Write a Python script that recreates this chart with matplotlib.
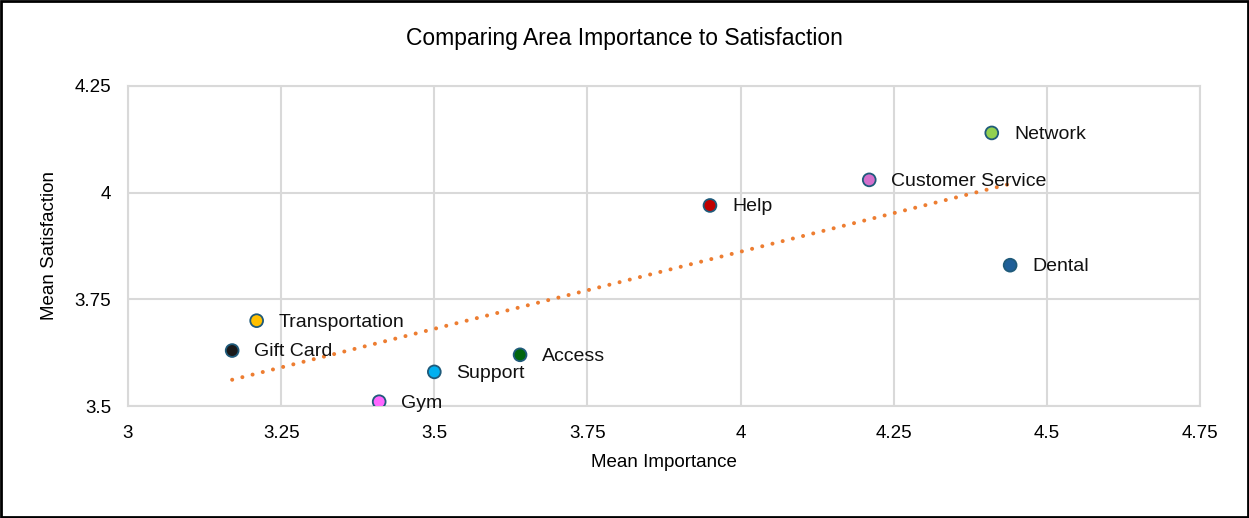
import numpy as np
import matplotlib.pyplot as plt
from matplotlib.patches import Rectangle

plt.rcParams['font.family'] = ['Liberation Sans', 'DejaVu Sans']

names = ['Network', 'Customer Service', 'Help', 'Dental', 'Transportation',
         'Gift Card', 'Access', 'Support', 'Gym']
importance = [4.41, 4.21, 3.95, 4.44, 3.21, 3.17, 3.64, 3.50, 3.41]
satisfaction = [4.14, 4.03, 3.97, 3.83, 3.70, 3.63, 3.62, 3.58, 3.51]
colors = ['#92d050', '#d36fcc', '#c00000', '#1f5f98', '#ffc000',
          '#1a1a1a', '#00650d', '#00b0f0', '#ff66ff']

xticks = [3, 3.25, 3.5, 3.75, 4, 4.25, 4.5, 4.75]
xticklabels = ['3', '3.25', '3.5', '3.75', '4', '4.25', '4.5', '4.75']
yticks = [3.5, 3.75, 4, 4.25]
yticklabels = ['3.5', '3.75', '4', '4.25']

fig = plt.figure(figsize=(12.49, 5.18), dpi=100)
ax = fig.add_axes([0.1025, 0.2162, 0.8583, 0.6178])

# linear trendline
k, b = np.polyfit(importance, satisfaction, 1)
tx = np.array([min(importance), max(importance)])
ax.plot(tx, k * tx + b, color='#ed7d31', linestyle=(0, (0.01, 2.6)), linewidth=2.9,
        dash_capstyle='round', zorder=2)

ax.scatter(importance, satisfaction, s=85, c=colors, edgecolors='#1f5a7a',
           linewidths=1.3, zorder=3)

for n, x, y in zip(names, importance, satisfaction):
    ax.annotate(n, (x, y), xytext=(16, -1), textcoords='offset points',
                ha='left', va='center', fontsize=14, color='#111111', zorder=4)

ax.set_xlim(3, 4.75)
ax.set_ylim(3.5, 4.25)
ax.set_xticks(xticks)
ax.set_xticklabels(xticklabels)
ax.set_yticks(yticks)
ax.set_yticklabels(yticklabels)
ax.tick_params(length=0, labelsize=13.5, pad=12)
ax.tick_params(axis='x', pad=14)
ax.grid(True, color='#d9d9d9', linewidth=1.5)
ax.set_axisbelow(True)
for s in ax.spines.values():
    s.set_color('#d9d9d9')
    s.set_linewidth(1.5)

ax.set_xlabel('Mean Importance', fontsize=13.5, labelpad=8)
ax.set_ylabel('Mean Satisfaction', fontsize=13.5, labelpad=12)
fig.suptitle('Comparing Area Importance to Satisfaction', fontsize=16.5, y=0.948)

fig.patches.append(Rectangle((0.001, 0.002), 0.998, 0.996, transform=fig.transFigure,
                             fill=False, edgecolor='black', linewidth=2))

fig.savefig('out.png', dpi=100)
